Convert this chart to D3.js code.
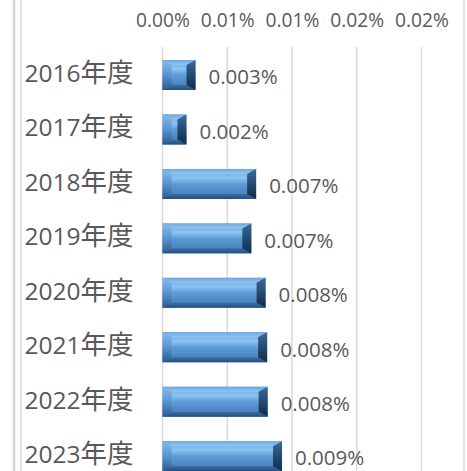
<!DOCTYPE html>
<html>
<head>
<meta charset="utf-8">
<script src="https://cdn.jsdelivr.net/npm/d3@7/dist/d3.min.js"></script>
<style>
  html, body { margin: 0; padding: 0; background: #fff; overflow: hidden; }
  svg { display: block; }
  text { font-family: "Open Sans", "Noto Sans CJK JP", sans-serif; fill: #595959; }
</style>
</head>
<body>
<svg id="chart" width="467" height="471"></svg>
<script>
// Fiscal years shown on the vertical axis (top to bottom)
const categories = ["2016年度", "2017年度", "2018年度", "2019年度", "2020年度", "2021年度", "2022年度", "2023年度"];
// Ratio per fiscal year, in percent
const values = [0.00255, 0.00185, 0.00723, 0.00686, 0.00796, 0.00808, 0.00812, 0.00923];
// Axis ticks (percent) and their printed labels
const tickValues = [0, 0.005, 0.01, 0.015, 0.02];
const tickLabels = ["0.00%", "0.01%", "0.01%", "0.02%", "0.02%"];

const svg = d3.select("#chart");
const W = 467, H = 471;

const x = d3.scaleLinear().domain([0, 0.02]).range([162.5, 421.5]);
const y = d3.scaleBand().domain(categories).range([47.8, 483.4]).paddingInner(0.45).paddingOuter(0.225);

// Gradients for the bevelled bars
const defs = svg.append("defs");
function vGrad(id, stops) {
  const g = defs.append("linearGradient").attr("id", id).attr("x1", 0).attr("y1", 0).attr("x2", 0).attr("y2", 1);
  stops.forEach(([o, c]) => g.append("stop").attr("offset", o).attr("stop-color", c));
}
vGrad("face", [[0, "#6aa4de"], [0.3, "#8cc3f2"], [0.5, "#5f9bd6"], [1, "#3e77b5"]]);
vGrad("bevTop", [[0, "#6da6dd"], [1, "#93c7f3"]]);
vGrad("bevBot", [[0, "#3a6ea5"], [1, "#254f7c"]]);
vGrad("bevLeft", [[0, "#86bced"], [0.5, "#5794cf"], [1, "#2c5b8b"]]);
vGrad("bevRight", [[0, "#3a6a9b"], [0.5, "#244a70"], [1, "#122a45"]]);

// Frame lines at the left and right edges
svg.append("line").attr("x1", 14).attr("x2", 14).attr("y1", 0).attr("y2", H)
  .attr("stroke", "#d4d4d4").attr("stroke-width", 2.5);
svg.append("line").attr("x1", 21).attr("x2", 21).attr("y1", 0).attr("y2", H)
  .attr("stroke", "#d9d9d9").attr("stroke-width", 1.5);
svg.append("line").attr("x1", 464).attr("x2", 464).attr("y1", 0).attr("y2", H)
  .attr("stroke", "#d9d9d9").attr("stroke-width", 1.5);

// Top value axis with vertical gridlines
const axis = d3.axisTop(x).tickValues(tickValues).tickFormat((d, i) => tickLabels[i])
  .tickSize(0).tickPadding(0);
const gAxis = svg.append("g").attr("transform", "translate(0,26.7)").call(axis);
gAxis.select(".domain").remove();
gAxis.selectAll("text").attr("font-size", "19.2px").attr("dy", 0).attr("fill", "#595959")
  .style("font-family", '"Open Sans", sans-serif');

svg.append("g").selectAll("line").data(tickValues).join("line")
  .attr("x1", d => x(d)).attr("x2", d => x(d))
  .attr("y1", 47).attr("y2", H)
  .attr("stroke", "#d9d9d9").attr("stroke-width", 1.5);

// Category labels (year digits, then the 年度 suffix slightly wider)
const catText = svg.append("g").selectAll("text").data(categories).join("text")
  .attr("x", 24.5).attr("y", d => y(d) + y.bandwidth() / 2 + 7)
  .attr("font-size", "24.5px");
catText.append("tspan").text(d => d.slice(0, 4));
catText.append("tspan").attr("font-size", "26.5px").text(d => d.slice(4));

// Bars drawn as bevelled blocks
const bars = svg.append("g").selectAll("g").data(values).join("g");
bars.each(function (v, i) {
  const g = d3.select(this);
  const x0 = x(0), x1 = x(v);
  const y0 = y(categories[i]), y1 = y0 + y.bandwidth();
  const w = x1 - x0;
  const bh = Math.min(9, w / 2 - 1), bv = 5;
  g.append("rect").attr("x", x0).attr("y", y0).attr("width", w).attr("height", y1 - y0).attr("fill", "url(#face)");
  const poly = (pts, fill) => g.append("polygon").attr("points", pts.map(p => p.join(",")).join(" ")).attr("fill", fill);
  poly([[x0, y0], [x1, y0], [x1 - bh, y0 + bv], [x0 + bh, y0 + bv]], "url(#bevTop)");
  poly([[x0, y1], [x1, y1], [x1 - bh, y1 - bv], [x0 + bh, y1 - bv]], "url(#bevBot)");
  poly([[x0, y0], [x0 + bh, y0 + bv], [x0 + bh, y1 - bv], [x0, y1]], "url(#bevLeft)");
  poly([[x1, y0], [x1 - bh, y0 + bv], [x1 - bh, y1 - bv], [x1, y1]], "url(#bevRight)");
});

// Value labels next to each bar
svg.append("g").selectAll("text").data(values).join("text")
  .attr("x", d => x(d) + 13)
  .attr("y", (d, i) => y(categories[i]) + y.bandwidth() / 2 + 9.3)
  .attr("font-size", "20.5px")
  .text(d => d.toFixed(3) + "%");
</script>
</body>
</html>
